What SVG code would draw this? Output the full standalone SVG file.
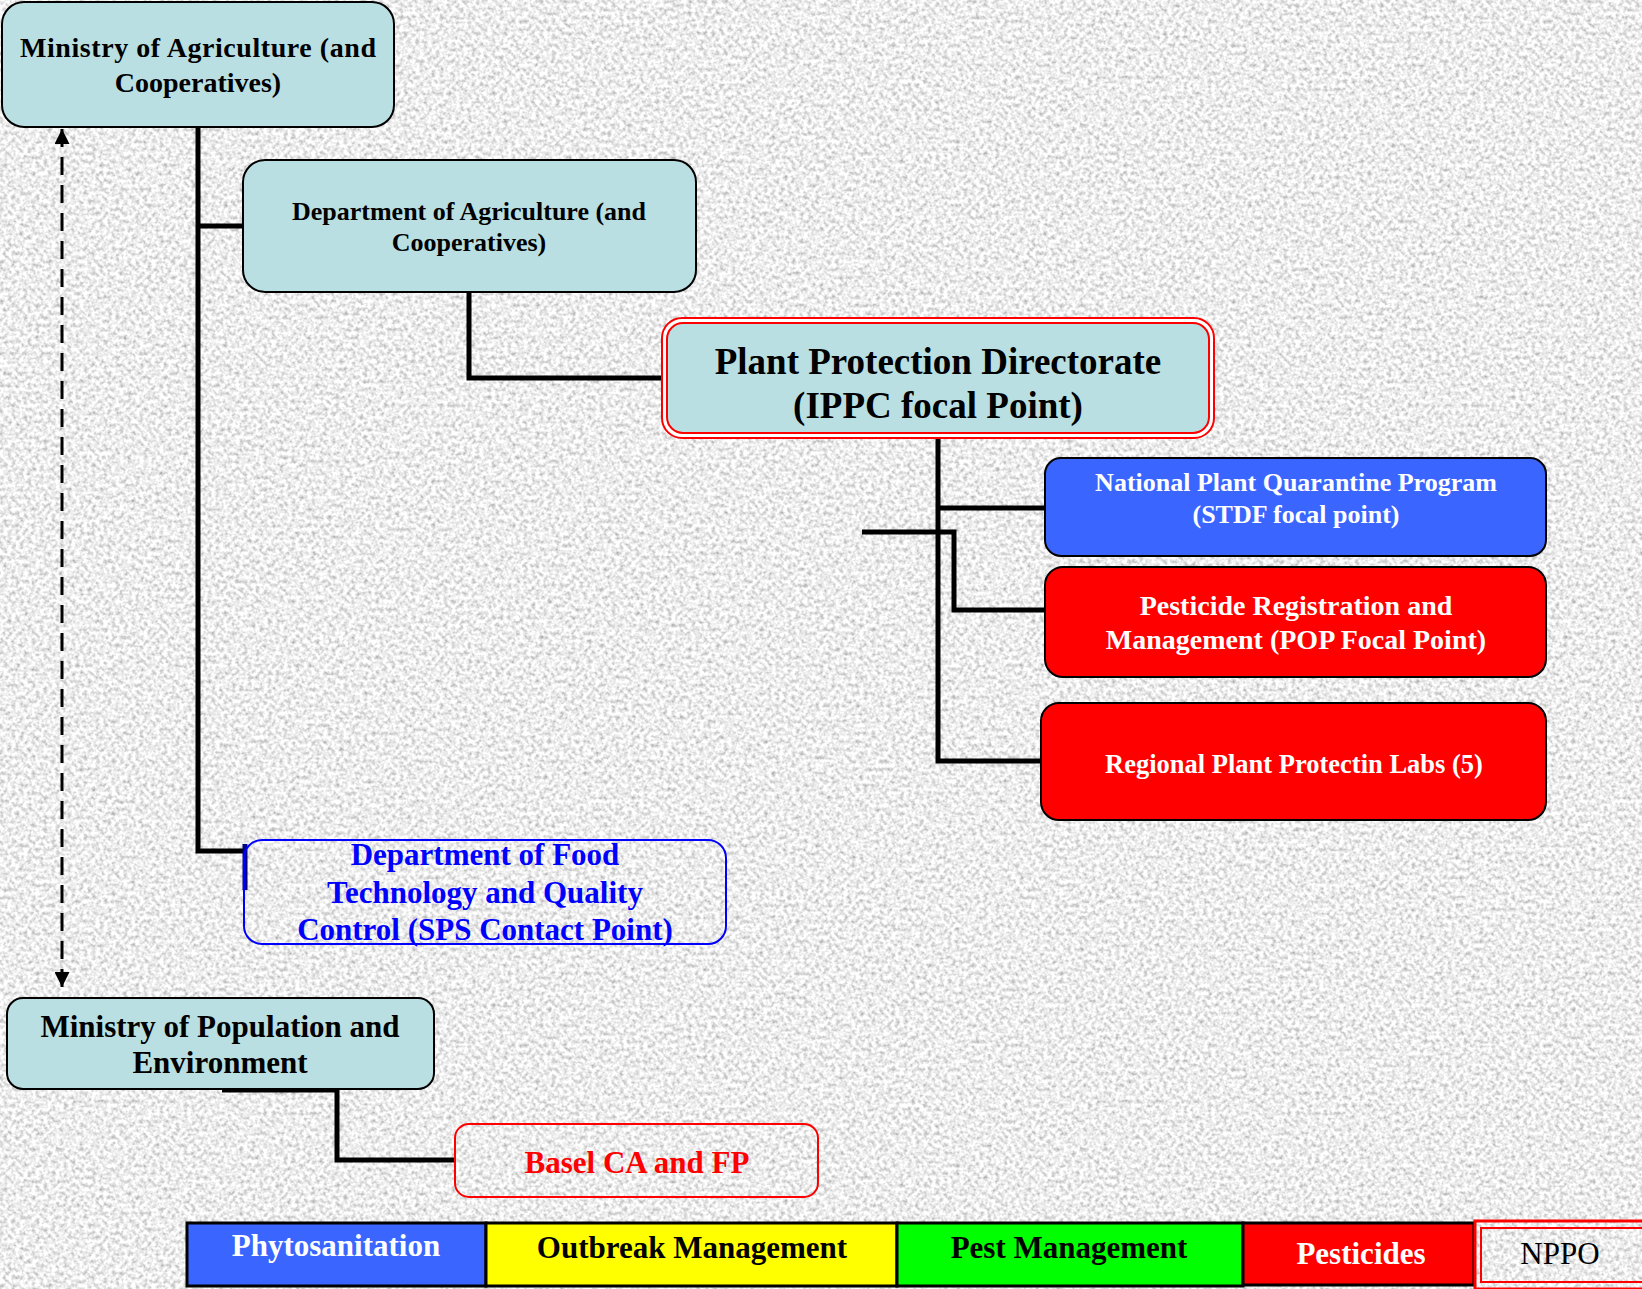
<svg xmlns="http://www.w3.org/2000/svg" width="1642" height="1289" viewBox="0 0 1642 1289">
<defs>
<filter id="tex" x="0" y="0" width="100%" height="100%">
<feTurbulence type="fractalNoise" baseFrequency="0.25" numOctaves="3" seed="7"/>
<feColorMatrix type="matrix" values="1.1 0 0 0 0.3  1.1 0 0 0 0.3  1.1 0 0 0 0.3  0 0 0 0 1"/>
</filter>
<marker id="arr" viewBox="0 0 10 10" refX="10" refY="5" markerWidth="5" markerHeight="5" orient="auto-start-reverse" markerUnits="strokeWidth">
<path d="M0,0 L10,5 L0,10 z" fill="#000"/>
</marker>
<style>
.t{font-family:"Liberation Serif","Times New Roman",serif;font-weight:bold;text-anchor:middle}
.cy{fill:#B9DFE2;stroke:#000;stroke-width:2}
.con{fill:none;stroke:#000;stroke-width:5}
.w{fill:#fff}
.k{fill:#000}
</style>
</defs>
<rect x="0" y="0" width="1642" height="1289" filter="url(#tex)"/>

<g id="connectors">
<path class="con" d="M198,127 V851 H245"/>
<path class="con" d="M198,226 H243"/>
<path class="con" d="M469,292 V378 H662"/>
<path class="con" d="M938,438 V761 H1041"/>
<path class="con" d="M938,508 H1045"/>
<path class="con" d="M862,532 H954 V610 H1045"/>
<path class="con" d="M222,1090 H337 V1160 H455"/>
<line x1="245" y1="844" x2="245" y2="890" stroke="#000080" stroke-width="5"/>
<line x1="62" y1="129" x2="62" y2="987" stroke="#000" stroke-width="3" stroke-dasharray="18,10" marker-start="url(#arr)" marker-end="url(#arr)"/>
</g>

<g id="moa">
<rect class="cy" x="2" y="2" width="392" height="125" rx="22"/>
<text class="t k" x="198" y="57" font-size="28" textLength="356" lengthAdjust="spacing">Ministry of Agriculture (and</text>
<text class="t k" x="198" y="92" font-size="28">Cooperatives)</text>
</g>

<g id="doa">
<rect class="cy" x="243" y="160" width="453" height="132" rx="22"/>
<text class="t k" x="469" y="220" font-size="26">Department of Agriculture (and</text>
<text class="t k" x="469" y="251" font-size="26">Cooperatives)</text>
</g>

<g id="ppd">
<rect x="662" y="318" width="552" height="120" rx="20" fill="#fff" stroke="#f00" stroke-width="2"/>
<rect x="667" y="323" width="542" height="110" rx="16" fill="#B9DFE2" stroke="#f00" stroke-width="2"/>
<text class="t k" x="938" y="374" font-size="37">Plant Protection Directorate</text>
<text class="t k" x="938" y="418" font-size="37">(IPPC focal Point)</text>
</g>

<g id="npqp">
<rect x="1045" y="458" width="501" height="98" rx="16" fill="#3A66FF" stroke="#000" stroke-width="2"/>
<text class="t w" x="1296" y="491" font-size="26">National Plant Quarantine Program</text>
<text class="t w" x="1296" y="523" font-size="26">(STDF focal point)</text>
</g>

<g id="prm">
<rect x="1045" y="567" width="501" height="110" rx="18" fill="#f00" stroke="#000" stroke-width="2"/>
<text class="t w" x="1296" y="615" font-size="28">Pesticide Registration and</text>
<text class="t w" x="1296" y="649" font-size="28">Management (POP Focal Point)</text>
</g>

<g id="rppl">
<rect x="1041" y="703" width="505" height="117" rx="18" fill="#f00" stroke="#000" stroke-width="2"/>
<text class="t w" x="1294" y="773" font-size="26.5">Regional Plant Protectin Labs (5)</text>
</g>

<g id="dftqc">
<rect x="244" y="840" width="482" height="104" rx="18" fill="none" stroke="#0000ff" stroke-width="2"/>
<text class="t" fill="#0000ff" x="485" y="865" font-size="31">Department of Food</text>
<text class="t" fill="#0000ff" x="485" y="903" font-size="31">Technology and Quality</text>
<text class="t" fill="#0000ff" x="485" y="940" font-size="31">Control (SPS Contact Point)</text>
</g>

<g id="mope">
<rect class="cy" x="7" y="998" width="427" height="91" rx="16"/>
<text class="t k" x="220" y="1037" font-size="31">Ministry of Population and</text>
<text class="t k" x="220" y="1073" font-size="31">Environment</text>
</g>

<g id="basel">
<rect x="455" y="1124" width="363" height="73" rx="14" fill="none" stroke="#f00" stroke-width="2"/>
<text class="t" fill="#f00" x="637" y="1173" font-size="31">Basel CA and FP</text>
</g>

<g id="legend">
<g id="lg-phyto">
<rect x="187" y="1223" width="299" height="63" fill="#3A66FF" stroke="#000" stroke-width="3"/>
<text class="t w" x="336" y="1256" font-size="31">Phytosanitation</text>
</g>
<g id="lg-outbreak">
<rect x="486" y="1223" width="411" height="63" fill="#ff0" stroke="#000" stroke-width="3"/>
<text class="t k" x="692" y="1258" font-size="31">Outbreak Management</text>
</g>
<g id="lg-pest">
<rect x="897" y="1223" width="346" height="63" fill="#0f0" stroke="#000" stroke-width="3"/>
<text class="t k" x="1069" y="1258" font-size="31">Pest Management</text>
</g>
<g id="lg-pesticides">
<rect x="1243" y="1223" width="231" height="62" fill="#f00" stroke="#000" stroke-width="3"/>
<text class="t w" x="1361" y="1264" font-size="31">Pesticides</text>
</g>
<g id="lg-nppo">
<rect x="1475" y="1221" width="180" height="68" fill="none" stroke="#f00" stroke-width="3"/>
<rect x="1481" y="1228" width="170" height="54" fill="none" stroke="#f00" stroke-width="2"/>
<text x="1560" y="1264" font-size="31" font-family="Liberation Serif, Times New Roman, serif" text-anchor="middle" fill="#000">NPPO</text>
</g>
</g>
</svg>
